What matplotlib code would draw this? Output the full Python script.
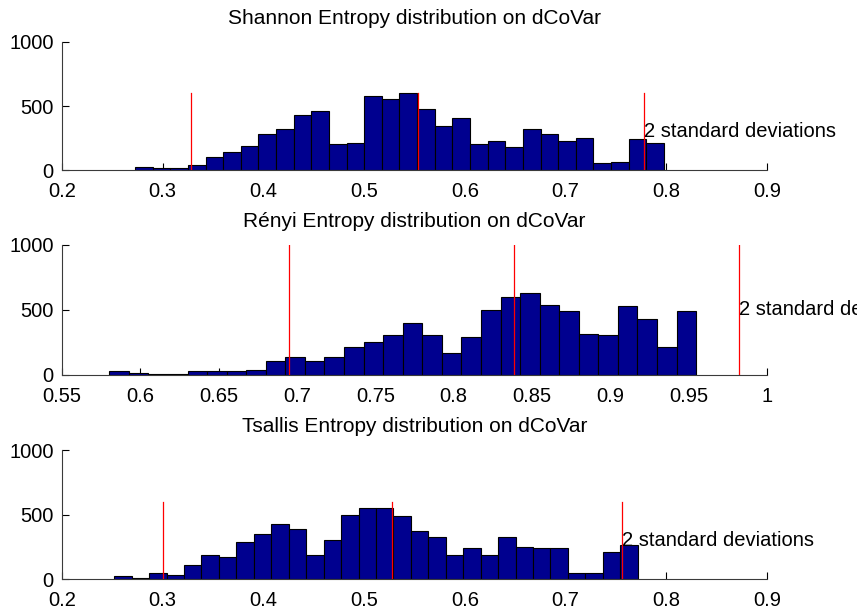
import numpy as np
import matplotlib
matplotlib.use("Agg")
import matplotlib.pyplot as plt

plt.rcParams['font.family'] = ['Liberation Sans', 'DejaVu Sans']

# --- histogram data (30 bins each) ---
titles = ["Shannon Entropy distribution on dCoVar",
          "R\u00e9nyi Entropy distribution on dCoVar",
          "Tsallis Entropy distribution on dCoVar"]

shannon_range = (0.2725, 0.7978)
shannon_counts = [26, 13, 13, 39, 101, 137, 188, 279, 317, 428,
                  464, 201, 214, 578, 555, 604, 480, 341, 403, 204,
                  230, 178, 317, 279, 230, 253, 52, 65, 240, 214]
shannon_mean, shannon_std = 0.5532, 0.1124

renyi_range = (0.5802, 0.9548)
renyi_counts = [31, 13, 10, 10, 28, 28, 28, 38, 105, 141,
                105, 141, 215, 251, 305, 400, 305, 167, 290, 500,
                603, 631, 538, 492, 315, 305, 528, 428, 215, 492]
renyi_mean, renyi_std = 0.8386, 0.0717

tsallis_range = (0.2519, 0.7717)
tsallis_counts = [26, 13, 49, 36, 113, 188, 175, 286, 350, 425,
                  389, 188, 302, 500, 551, 551, 487, 376, 325, 188,
                  240, 188, 325, 250, 240, 240, 49, 49, 214, 263]
tsallis_mean, tsallis_std = 0.5282, 0.1140

x_limits = [(0.2, 0.9), (0.55, 1.0), (0.2, 0.9)]
x_ticks = [[0.2, 0.3, 0.4, 0.5, 0.6, 0.7, 0.8, 0.9],
           [0.55, 0.6, 0.65, 0.7, 0.75, 0.8, 0.85, 0.9, 0.95, 1.0],
           [0.2, 0.3, 0.4, 0.5, 0.6, 0.7, 0.8, 0.9]]
x_ticklabels = [["0.2", "0.3", "0.4", "0.5", "0.6", "0.7", "0.8", "0.9"],
                ["0.55", "0.6", "0.65", "0.7", "0.75", "0.8", "0.85", "0.9", "0.95", "1"],
                ["0.2", "0.3", "0.4", "0.5", "0.6", "0.7", "0.8", "0.9"]]
y_ticks = [0, 500, 1000]
line_heights = [600, 1000, 600]
annotation = "2 standard deviations"

panels = [
    (shannon_range, shannon_counts, shannon_mean, shannon_std),
    (renyi_range, renyi_counts, renyi_mean, renyi_std),
    (tsallis_range, tsallis_counts, tsallis_mean, tsallis_std),
]

fig = plt.figure(figsize=(8.57, 6.14), dpi=100)
positions = [
    [0.0723, 0.7231, 0.8226, 0.2085],
    [0.0723, 0.3893, 0.8226, 0.2117],
    [0.0723, 0.0565, 0.8226, 0.2106],
]

bar_color = "#00008F"
fs = 14.5

for i, ((lo, hi), counts, mu, sd) in enumerate(panels):
    ax = fig.add_axes(positions[i])
    edges = np.linspace(lo, hi, len(counts) + 1)
    ax.bar(edges[:-1], counts, width=np.diff(edges), align='edge',
           color=bar_color, edgecolor='black', linewidth=0.8, zorder=2)

    h = line_heights[i]
    for xv in (mu - 2 * sd, mu, mu + 2 * sd):
        ax.plot([xv, xv], [0, h], color='red', linewidth=0.9, zorder=3)
    ax.text(mu + 2 * sd, h / 2, annotation, ha='left', va='center',
            fontsize=fs, zorder=4)

    ax.set_xlim(*x_limits[i])
    ax.set_ylim(0, 1000)
    ax.set_xticks(x_ticks[i])
    ax.set_xticklabels(x_ticklabels[i])
    ax.set_yticks(y_ticks)
    ax.set_yticklabels([str(v) for v in y_ticks])
    ax.set_axisbelow(True)
    ax.tick_params(direction='in', length=5, width=0.8, labelsize=fs)
    ax.tick_params(axis='x', pad=8.5)
    ax.tick_params(axis='y', pad=6)
    for s in ('top', 'right'):
        ax.spines[s].set_visible(False)
    for s in ('left', 'bottom'):
        ax.spines[s].set_color('#3a3a3a')
        ax.spines[s].set_linewidth(0.8)
    ax.set_title(titles[i], fontsize=15, pad=13)

fig.savefig("out.png", dpi=100)
